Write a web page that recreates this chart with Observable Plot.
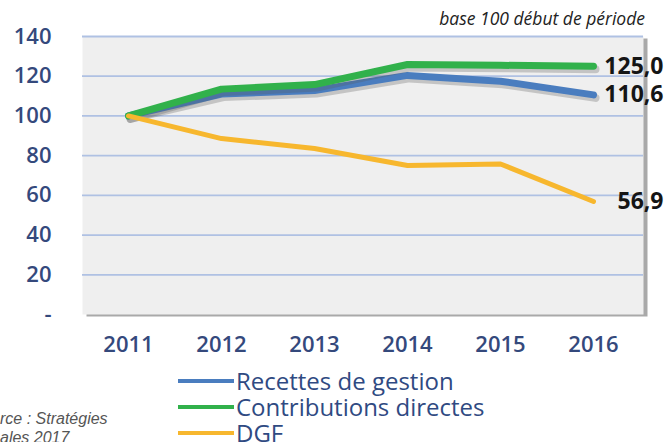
<!DOCTYPE html>
<html>
<head>
<meta charset="utf-8">
<script src="https://cdn.jsdelivr.net/npm/d3@7"></script>
<script src="https://cdn.jsdelivr.net/npm/@observablehq/plot@0.6"></script>
<style>
  html, body { margin: 0; padding: 0; background: #fff; }
  #wrap { position: relative; width: 665px; height: 442px; overflow: hidden; font-family: "Open Sans", sans-serif; }
  #subtitle { position: absolute; right: 20px; top: 6px; font-style: italic; font-size: 17.5px; color: #222; white-space: nowrap; }
  #legend { position: absolute; left: 178px; top: 368px; }
  .row { height: 26px; line-height: 26px; display: flex; align-items: center; font-size: 24px; color: #2f4a82; white-space: nowrap; }
  .swatch { display: inline-block; width: 56px; height: 4px; margin-right: 2px; }
  #source { position: absolute; left: 0; top: 409px; font-family: "Liberation Sans", Arial, sans-serif; font-style: italic; font-size: 16px; color: #555; line-height: 19px; }
</style>
</head>
<body>
<div id="wrap">
  <div id="chart"></div>
  <div id="subtitle"></div>
  <div id="legend"></div>
  <div id="source"></div>
</div>
<script>
const years = [2011, 2012, 2013, 2014, 2015, 2016];
const recettes = [100, 111, 112.8, 120.4, 117.5, 110.6];
const contributions = [100, 113.5, 115.8, 125.9, 125.5, 125.0];
const dgf = [100, 88.6, 83.6, 75.0, 75.8, 56.9];
const seriesNames = ["Recettes de gestion", "Contributions directes", "DGF"];
const seriesColors = ["#4a7dbf", "#31b14b", "#f7b72e"];
const seriesWidths = [7, 7, 5];
const yTicks = [0, 20, 40, 60, 80, 100, 120, 140];
const subtitleText = "base 100 début de période";
const sourceLines = ["rce : Stratégies", "ales 2017"];

const seriesValues = [recettes, contributions, dgf];
const data = seriesNames.flatMap((name, i) =>
  years.map((year, j) => ({ series: name, year, value: seriesValues[i][j] }))
);
const last = data.filter(d => d.year === years[years.length - 1]);
const fmt = v => v.toFixed(1).replace(".", ",");

const lineMarks = seriesNames.flatMap((name, i) => {
  const sub = data.filter(d => d.series === name);
  const marks = [];
  if (i < 2) {
    marks.push(Plot.line(sub, { x: "year", y: "value", stroke: "#555", strokeOpacity: 0.28, strokeWidth: seriesWidths[i] + 1, dx: 2, dy: 3, strokeLinejoin: "round" }));
  }
  marks.push(Plot.line(sub, { x: "year", y: "value", stroke: seriesColors[i], strokeWidth: seriesWidths[i], strokeLinejoin: "round", strokeLinecap: "round" }));
  return marks;
});

const chart = Plot.plot({
  width: 665,
  height: 365,
  marginTop: 36,
  marginBottom: 51,
  marginLeft: 82,
  marginRight: 22,
  style: { fontFamily: "'Open Sans', sans-serif", color: "#34497c", background: "transparent", overflow: "visible" },
  x: { type: "point", domain: years, padding: 0, insetLeft: 45, insetRight: 50, label: null },
  y: { domain: [0, 140], label: null },
  marks: [
    Plot.frame({ fill: "#a9a9a9", stroke: null, dx: 4, dy: 2 }),
    Plot.frame({ fill: "#efefef", stroke: null }),
    Plot.ruleY(yTicks.filter(t => t > 0), { stroke: "#afc1e3", strokeWidth: 1.8 }),
    Plot.axisY({ ticks: yTicks, tickSize: 0, tickPadding: 31, fontSize: 22, fontWeight: 600, label: null, tickFormat: d => d === 0 ? "-" : String(d) }),
    Plot.axisX({ ticks: years, tickSize: 0, tickPadding: 22, fontSize: 22, fontWeight: 600, label: null, tickFormat: d => String(d) }),
    ...lineMarks,
    Plot.text(last, { x: "year", y: "value", text: d => fmt(d.value), textAnchor: "end", dx: 70, fontSize: 23, fontWeight: "bold", fill: "#151515" })
  ]
});
document.getElementById("chart").appendChild(chart);

document.getElementById("subtitle").textContent = subtitleText;
const legend = document.getElementById("legend");
seriesNames.forEach((name, i) => {
  const row = document.createElement("div");
  row.className = "row";
  const sw = document.createElement("span");
  sw.className = "swatch";
  sw.style.background = seriesColors[i];
  row.appendChild(sw);
  row.appendChild(document.createTextNode(name));
  legend.appendChild(row);
});
const src = document.getElementById("source");
sourceLines.forEach(t => { const d = document.createElement("div"); d.textContent = t; src.appendChild(d); });
</script>
</body>
</html>
